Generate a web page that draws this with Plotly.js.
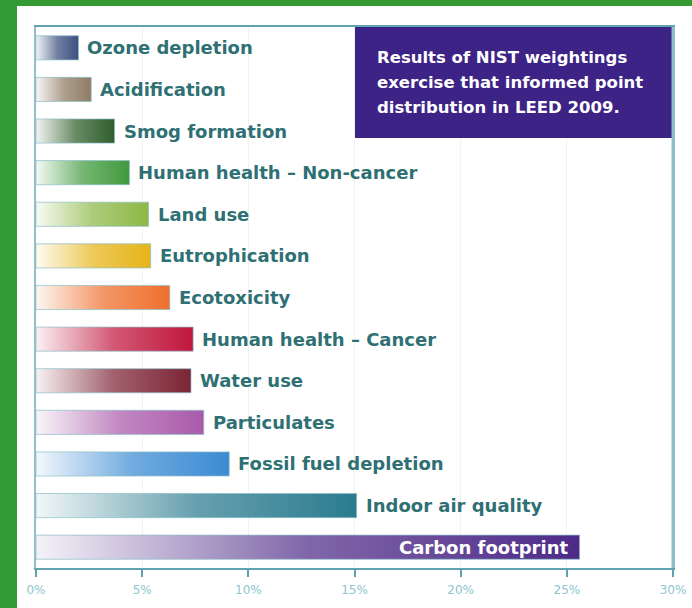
<!DOCTYPE html>
<html><head><meta charset="utf-8">
<script src="https://cdn.plot.ly/plotly-3.0.1.min.js"></script>
<style>html,body{margin:0;padding:0;background:#ffffff;}#chart{width:692px;height:608px;}</style>
</head><body><div id="chart"></div>
<script>
const categories = ["Ozone depletion","Acidification","Smog formation","Human health – Non-cancer","Land use","Eutrophication","Ecotoxicity","Human health – Cancer","Water use","Particulates","Fossil fuel depletion","Indoor air quality","Carbon footprint"];
const values = [2.0, 2.6, 3.7, 4.4, 5.3, 5.4, 6.3, 7.4, 7.3, 7.9, 9.1, 15.1, 25.6];
const barColors = ["#3d4f80","#8e7b63","#2f5e2b","#3f9a3d","#8db846","#e6b417","#ee6f2c","#c0163d","#7d2434","#a95aaa","#3a8bd2","#2a7b8f","#4e2a88"];
const xTicks = [0,5,10,15,20,25,30];
const titleLines = ["Results of NIST weightings","exercise that informed point","distribution in LEED 2009."];

function tint(hex, f){
  const n = parseInt(hex.slice(1),16);
  const r=(n>>16)&255, g=(n>>8)&255, b=n&255;
  const m = c => Math.round(255 - (255-c)*f);
  return 'rgb('+m(r)+','+m(g)+','+m(b)+')';
}

const half = 0.29;
const traces = categories.map((c,i)=>({
  type:'scatter', mode:'lines',
  x:[0,values[i],values[i],0,0],
  y:[i-half,i-half,i+half,i+half,i-half],
  fill:'toself',
  fillgradient:{type:'horizontal', colorscale:[[0,tint(barColors[i],0.06)],[0.5,tint(barColors[i],0.72)],[1,barColors[i]]]},
  line:{color:'rgba(140,190,200,0.7)', width:1},
  hoverinfo:'skip', showlegend:false
}));

const labelFont = 'DejaVu Sans';
const annotations = categories.map((c,i)=>{
  const last = i===categories.length-1;
  return {
    x: values[i], y: i, xref:'x', yref:'y', text:c, showarrow:false,
    xanchor: last ? 'right' : 'left', xshift: last ? -10 : 7,
    font:{family:labelFont, size:18, color: last ? '#ffffff' : '#2e7073', weight:700}
  };
});
const lineY = [0.9445, 0.8983, 0.8521];
titleLines.forEach((t,k)=>annotations.push({
  x:0.532, y:lineY[k], xref:'paper', yref:'paper', text:t, showarrow:false,
  xanchor:'left', yanchor:'middle', font:{family:labelFont, size:16.5, color:'#ffffff', weight:700}
}));

const layout = {
  width:692, height:608,
  paper_bgcolor:'#ffffff', plot_bgcolor:'#ffffff',
  margin:{l:36, r:19, t:27, b:40},
  xaxis:{range:[0,30], tickvals:xTicks, ticktext:xTicks.map(v=>v+'%'),
    showgrid:true, gridcolor:'#eef3f3', zeroline:false,
    showline:true, linecolor:'#5fa3b0', linewidth:2, mirror:true,
    ticks:'outside', ticklen:7, tickcolor:'#5fa3b0', tickwidth:2,
    ticklabelstandoff:3,
    tickfont:{family:'DejaVu Sans', size:12, color:'#8cc6cf'}, fixedrange:true},
  yaxis:{range:[12.5,-0.5], showticklabels:false, showgrid:false, zeroline:false,
    showline:true, linecolor:'#8fc0cc', linewidth:2, mirror:true, ticks:'', fixedrange:true},
  shapes:[
    {type:'rect', xref:'paper', yref:'paper', x0:-0.06, x1:-0.0298, y0:-0.1, y1:1.1,
     fillcolor:'#339a33', line:{width:0}, layer:'below'},
    {type:'rect', xref:'paper', yref:'paper', x0:-0.06, x1:1.04, y0:1.039, y1:1.1,
     fillcolor:'#339a33', line:{width:0}, layer:'below'},
    {type:'rect', xref:'paper', yref:'paper', x0:0.5008, x1:1, y0:0.795, y1:1,
     fillcolor:'#3d2386', line:{width:0}, layer:'above'},
    {type:'line', xref:'paper', yref:'paper', x0:1, x1:1, y0:0, y1:1,
     line:{color:'#8cbdd0', width:3}}
  ],
  annotations:annotations,
  showlegend:false
};
Plotly.newPlot('chart', traces, layout, {displayModeBar:false, staticPlot:true});
</script></body></html>
